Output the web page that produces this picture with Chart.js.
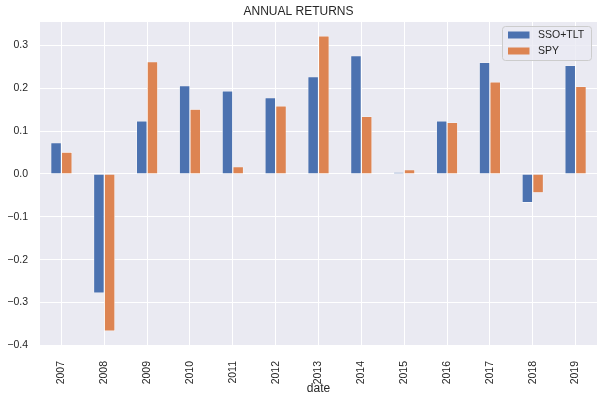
<!DOCTYPE html>
<html>
<head>
<meta charset="utf-8">
<script src="https://cdn.jsdelivr.net/npm/chart.js@4/dist/chart.umd.min.js"></script>
<style>
  html, body { margin: 0; padding: 0; background: #ffffff; }
  #wrap { width: 609px; height: 402px; }
</style>
</head>
<body>
<div id="wrap"><canvas id="c" width="609" height="402"></canvas></div>
<script>
const years = ["2007","2008","2009","2010","2011","2012","2013","2014","2015","2016","2017","2018","2019"];
const ssoTlt = [0.073, -0.278, 0.124, 0.206, 0.194, 0.178, 0.227, 0.276, 0.004, 0.124, 0.260, -0.067, 0.253];
const spy = [0.051, -0.367, 0.262, 0.151, 0.017, 0.159, 0.322, 0.134, 0.010, 0.120, 0.215, -0.044, 0.204];
const yTicks = [-0.4, -0.3, -0.2, -0.1, 0.0, 0.1, 0.2, 0.3];
const seriesNames = ["SSO+TLT", "SPY"];

const TXT = "#262626";
const FONT = "'Liberation Sans', Arial, sans-serif";

const bgPlugin = {
  id: 'bg',
  beforeDraw(chart) {
    const {ctx, chartArea: a} = chart;
    ctx.save();
    ctx.fillStyle = '#EAEAF2';
    ctx.fillRect(a.left, a.top, a.right - a.left, a.bottom - a.top);
    ctx.restore();
  }
};

const legendPlugin = {
  id: 'innerLegend',
  afterDraw(chart) {
    const {ctx, chartArea: a} = chart;
    const w = 89, h = 34;
    const x = a.right - 6 - w, y = a.top + 4;
    ctx.save();
    ctx.fillStyle = 'rgba(234,234,242,0.8)';
    ctx.strokeStyle = '#CCCCCC';
    ctx.lineWidth = 1;
    ctx.beginPath();
    if (ctx.roundRect) ctx.roundRect(x + 0.5, y + 0.5, w, h, 3); else ctx.rect(x + 0.5, y + 0.5, w, h);
    ctx.fill();
    ctx.stroke();
    ctx.font = "10.5px " + FONT;
    ctx.textBaseline = 'middle';
    chart.data.datasets.forEach((ds, i) => {
      const cy = y + 9 + i * 16;
      ctx.fillStyle = ds.backgroundColor;
      ctx.fillRect(x + 6, cy - 3.5, 21.5, 7);
      ctx.fillStyle = TXT;
      ctx.fillText(ds.label, x + 36, cy);
    });
    ctx.restore();
  }
};

new Chart(document.getElementById('c'), {
  type: 'bar',
  data: {
    labels: years,
    datasets: [
      { label: seriesNames[0], data: ssoTlt, backgroundColor: '#4C72B0', borderColor: '#ffffff', borderWidth: 0.6, borderSkipped: 'start' },
      { label: seriesNames[1], data: spy, backgroundColor: '#DD8452', borderColor: '#ffffff', borderWidth: 0.6, borderSkipped: 'start' }
    ]
  },
  options: {
    responsive: false,
    animation: false,
    devicePixelRatio: 1,
    layout: { padding: { left: 0, right: 12, top: 0, bottom: 0 } },
    datasets: { bar: { categoryPercentage: 0.5, barPercentage: 1.0 } },
    plugins: {
      legend: { display: false },
      tooltip: { enabled: false },
      title: {
        display: true,
        text: 'ANNUAL RETURNS',
        color: TXT,
        font: { family: FONT, size: 12, weight: 'normal' },
        padding: { top: 4, bottom: 3.6 }
      }
    },
    scales: {
      x: {
        offset: true,
        grid: { color: '#ffffff', lineWidth: 1, offset: false, drawTicks: false },
        border: { display: false },
        ticks: {
          color: TXT, font: { family: FONT, size: 10.5 },
          minRotation: 90, maxRotation: 90, padding: 15, autoSkip: false
        },
        title: {
          display: true, text: 'date', color: TXT,
          font: { family: FONT, size: 12 }, padding: { top: 0, bottom: 6 }
        },
        afterFit(scale) { scale.height = 56; }
      },
      y: {
        min: -0.4015,
        max: 0.3545,
        grid: { color: '#ffffff', lineWidth: 1, drawTicks: false },
        border: { display: false },
        ticks: {
          color: TXT, font: { family: FONT, size: 10.5 }, padding: 12,
          callback: (v) => { const s = Number(v).toFixed(1); return s.replace('-', '\u2212'); }
        },
        afterBuildTicks(scale) { scale.ticks = yTicks.map(v => ({ value: v })); },
        afterFit(scale) { scale.width = 40; }
      }
    }
  },
  plugins: [bgPlugin, legendPlugin]
});
</script>
</body>
</html>
